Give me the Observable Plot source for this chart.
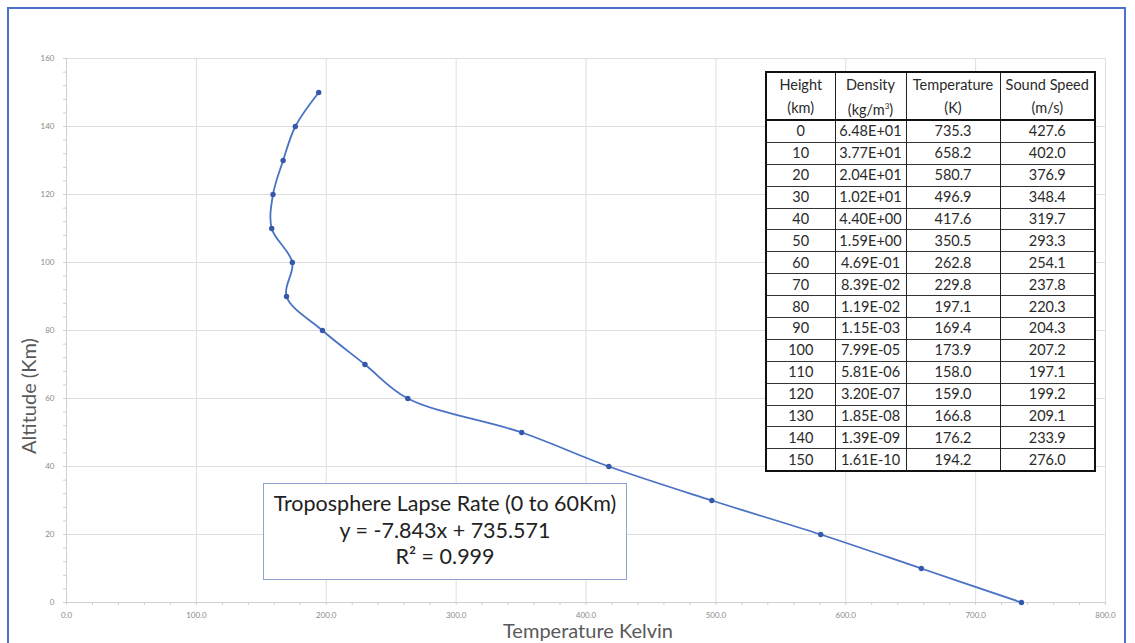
<!DOCTYPE html>
<html>
<head>
<meta charset="utf-8">
<script src="https://cdn.jsdelivr.net/npm/d3@7"></script>
<script src="https://cdn.jsdelivr.net/npm/@observablehq/plot@0.6"></script>
<style>
  html, body { margin: 0; padding: 0; background: #fff; }
  #wrap { position: relative; width: 1135px; height: 643px; overflow: hidden; background: #fff; font-family: Lato, "Open Sans", sans-serif; }
  #frame { position: absolute; left: 7px; top: 7px; width: 1119px; height: 700px; border: 2px solid #4a72c8; box-sizing: border-box; pointer-events: none; }
  #chart { position: absolute; left: 0; top: 0; }
  .ytitle { position: absolute; left: 28px; top: 396px; transform: translate(-50%, -50%) rotate(-90deg); font-size: 20px; color: #595959; white-space: nowrap; }
  .xtitle { position: absolute; left: 588px; top: 630px; transform: translate(-50%, -50%); font-size: 20px; line-height: 22px; color: #595959; white-space: nowrap; }
  #tbl { position: absolute; left: 765px; top: 71px; border-collapse: collapse; border: 2px solid #111; font-size: 14.5px; color: #2a2a2a; background: #fff; }
  #tbl td, #tbl th { border-left: 1px solid #222; border-right: 1px solid #222; text-align: center; padding: 0; font-weight: normal; white-space: nowrap; line-height: 16px; }
  #tbl thead th { height: 23px; }
  #tbl thead tr:last-child th { border-bottom: 2px solid #111; }
  #tbl tbody td { height: 20.9px; border-top: 1px solid #333; }
  #box { position: absolute; left: 263px; top: 483px; width: 364px; height: 97px; border: 1px solid #8ea4d2; box-sizing: border-box; background: #fff; text-align: center; font-size: 21.5px; line-height: 26.5px; color: #222; padding-top: 6px; white-space: nowrap; }
</style>
</head>
<body>
<div id="wrap">
  <div id="chart"></div>
  <div class="ytitle">Altitude (Km)</div>
  <div class="xtitle">Temperature Kelvin</div>
  <table id="tbl"></table>
  <div id="box">Troposphere Lapse Rate (0 to 60Km)<br>y = -7.843x + 735.571<br>R² = 0.999</div>
  <div id="frame"></div>
</div>
<script>
const heights = [0, 10, 20, 30, 40, 50, 60, 70, 80, 90, 100, 110, 120, 130, 140, 150];
const densities = ["6.48E+01","3.77E+01","2.04E+01","1.02E+01","4.40E+00","1.59E+00","4.69E-01","8.39E-02","1.19E-02","1.15E-03","7.99E-05","5.81E-06","3.20E-07","1.85E-08","1.39E-09","1.61E-10"];
const temperatures = [735.3, 658.2, 580.7, 496.9, 417.6, 350.5, 262.8, 229.8, 197.1, 169.4, 173.9, 158.0, 159.0, 166.8, 176.2, 194.2];
const soundSpeeds = [427.6, 402.0, 376.9, 348.4, 319.7, 293.3, 254.1, 237.8, 220.3, 204.3, 207.2, 197.1, 199.2, 209.1, 233.9, 276.0];
const xTicks = [0, 100, 200, 300, 400, 500, 600, 700, 800];
const yTicks = [0, 20, 40, 60, 80, 100, 120, 140, 160];
const headers = [["Height", "(km)"], ["Density", "(kg/m<sup style='font-size:8px'>3</sup>)"], ["Temperature", "(K)"], ["Sound Speed", "(m/s)"]];
const colWidths = [69, 71, 94, 95];

const data = heights.map((h, i) => ({h, t: temperatures[i]}));
const xMinor = d3.range(0, 801, 20);
const yMinor = d3.range(0, 161, 4);

const chart = Plot.plot({
  width: 1135,
  height: 643,
  marginLeft: 66,
  marginRight: 30,
  marginTop: 58,
  marginBottom: 41,
  x: {domain: [0, 800]},
  y: {domain: [0, 160]},
  style: {background: "transparent", fontFamily: "Lato, sans-serif"},
  marks: [
    Plot.gridX(xTicks, {stroke: "#dedede", strokeOpacity: 1}),
    Plot.gridY(yTicks, {stroke: "#dedede", strokeOpacity: 1}),
    Plot.ruleY([0], {stroke: "#d0d0d0"}),
    Plot.ruleX([0], {stroke: "#d0d0d0"}),
    Plot.axisX({ticks: xMinor, tickFormat: () => "", tickSize: 3, stroke: "#d0d0d0", label: null}),
    Plot.axisX({ticks: xTicks, tickFormat: d => d.toFixed(1), tickSize: 0, tickPadding: 10, fontSize: 8, fill: "#8a8a8a", label: null}),
    Plot.axisY({ticks: yMinor, tickFormat: () => "", tickSize: 3, stroke: "#d0d0d0", label: null}),
    Plot.axisY({ticks: yTicks, tickFormat: d => String(d), tickSize: 0, tickPadding: 12, fontSize: 8, fill: "#8a8a8a", label: null}),
    Plot.line(data, {x: "t", y: "h", curve: "catmull-rom", stroke: "#4a72c4", strokeWidth: 1.8}),
    Plot.dot(data, {x: "t", y: "h", r: 2.7, fill: "#3559a8", stroke: "none"})
  ]
});
document.getElementById("chart").appendChild(chart);

// table
const tbl = document.getElementById("tbl");
let html = "<colgroup>" + colWidths.map(w => `<col style="width:${w}px">`).join("") + "</colgroup><thead><tr>";
html += headers.map(h => `<th>${h[0]}</th>`).join("") + "</tr><tr>";
html += headers.map(h => `<th>${h[1]}</th>`).join("") + "</tr></thead><tbody>";
heights.forEach((h, i) => {
  html += `<tr><td>${h}</td><td>${densities[i]}</td><td>${temperatures[i].toFixed(1)}</td><td>${soundSpeeds[i].toFixed(1)}</td></tr>`;
});
html += "</tbody>";
tbl.innerHTML = html;
</script>
</body>
</html>
